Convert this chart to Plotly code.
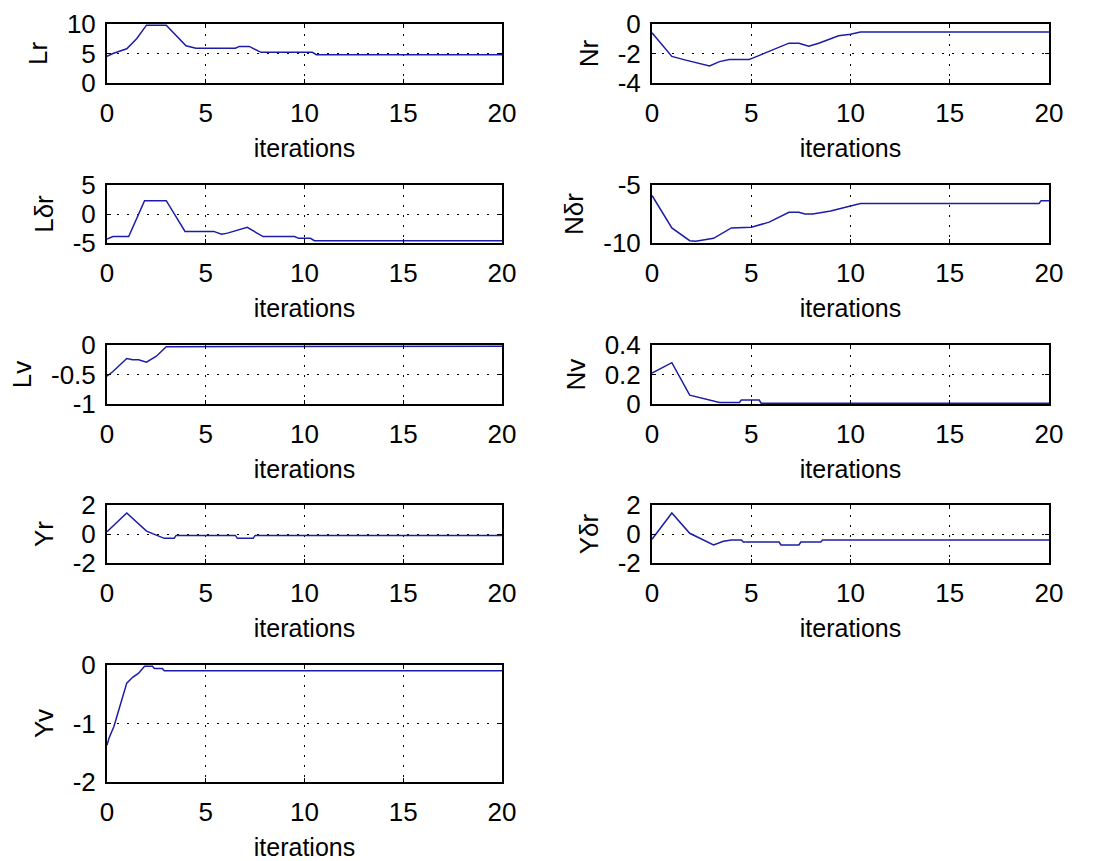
import plotly.graph_objects as go

# Parameter estimate histories against iteration count
it_Lr = [0, 0.3, 1, 1.5, 2, 3, 4, 4.5, 6.5, 6.7, 7.2, 7.5, 7.8, 10.4, 10.6, 20]
Lr = [4.5, 5.0, 5.8, 7.5, 9.8, 9.8, 6.3, 5.9, 5.9, 6.2, 6.2, 5.7, 5.2, 5.2, 4.8, 4.8]

it_Nr = [0, 1, 1.7, 2.9, 3.4, 3.9, 4.9, 5.1, 6.9, 7.4, 7.9, 8.4, 9.4, 10, 10.5, 20]
Nr = [-0.6, -2.2, -2.45, -2.85, -2.55, -2.4, -2.4, -2.3, -1.3, -1.3, -1.5, -1.3, -0.8, -0.7, -0.55, -0.55]

it_Ldr = [0, 0.3, 1.1, 1.9, 3.0, 3.95, 5.4, 5.8, 6.1, 7.1, 7.9, 9.5, 9.7, 10.3, 10.5, 20]
Ldr = [-4.3, -3.9, -3.9, 2.3, 2.3, -3.0, -3.0, -3.5, -3.3, -2.3, -3.9, -3.9, -4.2, -4.2, -4.6, -4.6]

it_Ndr = [0, 1, 1.9, 2.2, 3.1, 4, 5, 5.9, 6.9, 7.4, 7.7, 8.1, 9, 10, 10.5, 19.5, 19.6, 20]
Ndr = [-5.9, -8.7, -9.8, -9.85, -9.6, -8.7, -8.65, -8.2, -7.35, -7.35, -7.5, -7.5, -7.25, -6.8, -6.6, -6.6, -6.35, -6.35]

it_Lv = [0, 0.3, 1.0, 1.3, 1.6, 2.0, 2.5, 3.0, 20]
Lv = [-0.53, -0.45, -0.23, -0.25, -0.25, -0.29, -0.19, -0.03, -0.02]

it_Nv = [0, 1, 1.9, 2.8, 3.4, 4.4, 4.5, 5.4, 5.5, 20]
Nv = [0.21, 0.28, 0.06, 0.03, 0.01, 0.01, 0.027, 0.027, 0.005, 0.005]

it_Yr = [0, 1, 2, 2.4, 2.9, 3.4, 3.5, 6.5, 6.6, 7.4, 7.5, 20]
Yr = [0.16, 1.45, 0.2, 0.0, -0.3, -0.3, -0.1, -0.1, -0.3, -0.3, -0.1, -0.1]

it_Ydr = [0, 1, 1.9, 3.1, 3.6, 4.0, 4.5, 4.6, 6.4, 6.5, 7.4, 7.5, 8.5, 8.6, 20]
Ydr = [-0.37, 1.45, 0.05, -0.76, -0.5, -0.41, -0.41, -0.55, -0.55, -0.76, -0.76, -0.55, -0.55, -0.41, -0.41]

it_Yv = [0, 0.1, 0.35, 1.0, 1.3, 1.6, 1.9, 2.3, 2.4, 2.8, 2.9, 20]
Yv = [-1.37, -1.25, -1.05, -0.31, -0.21, -0.14, -0.02, -0.02, -0.06, -0.06, -0.1, -0.1]

x_ticks = [0, 5, 10, 15, 20]
x_ticktext = ["0", "5", "10", "15", "20"]

# label, x, y, y tick values, y tick text
panels = [
    ("Lr", it_Lr, Lr, [0, 5, 10], ["0", "5", "10"]),
    ("Nr", it_Nr, Nr, [-4, -2, 0], ["-4", "-2", "0"]),
    ("Lδr", it_Ldr, Ldr, [-5, 0, 5], ["-5", "0", "5"]),
    ("Nδr", it_Ndr, Ndr, [-10, -5], ["-10", "-5"]),
    ("Lv", it_Lv, Lv, [-1, -0.5, 0], ["-1", "-0.5", "0"]),
    ("Nv", it_Nv, Nv, [0, 0.2, 0.4], ["0", "0.2", "0.4"]),
    ("Yr", it_Yr, Yr, [-2, 0, 2], ["-2", "0", "2"]),
    ("Yδr", it_Ydr, Ydr, [-2, 0, 2], ["-2", "0", "2"]),
    ("Yv", it_Yv, Yv, [-2, -1, 0], ["-2", "-1", "0"]),
]

W, H = 1100, 861
col_px = [(107, 502), (652, 1049)]
row_px = [(24, 83), (185, 243), (345, 404), (505, 563), (665, 782)]

FONT = "Liberation Sans, Arial, sans-serif"
LINE_COLOR = "#1c1ca8"

fig = go.Figure()
layout = {}
for i, (label, xs, ys, yt, ytt) in enumerate(panels):
    r, c = divmod(i, 2)
    n = i + 1
    xa = "x" if n == 1 else f"x{n}"
    ya = "y" if n == 1 else f"y{n}"
    fig.add_trace(go.Scatter(x=xs, y=ys, mode="lines", xaxis=xa, yaxis=ya,
                             line=dict(color=LINE_COLOR, width=1.5),
                             showlegend=False))
    x0, x1 = col_px[c]
    top, bot = row_px[r]
    common = dict(
        showline=True, linecolor="black", linewidth=2, mirror="ticks",
        ticks="inside", ticklen=4, tickcolor="black", tickwidth=1,
        showgrid=True, gridcolor="black", gridwidth=1, griddash="2px,8px",
        zeroline=False, automargin=False,
        tickfont=dict(family=FONT, size=26, color="black"),
    )
    layout["xaxis" if n == 1 else f"xaxis{n}"] = dict(
        common, domain=[x0 / W, x1 / W], anchor=ya, range=[0, 20],
        tickvals=x_ticks, ticktext=x_ticktext, ticklabelstandoff=6,
        title=dict(text="iterations", standoff=12,
                   font=dict(family=FONT, size=25, color="black")),
    )
    layout["yaxis" if n == 1 else f"yaxis{n}"] = dict(
        common, domain=[1 - bot / H, 1 - top / H], anchor=xa,
        range=[yt[0], yt[-1]], tickvals=yt, ticktext=ytt, ticklabelstandoff=4,
        title=dict(text=label, standoff=12,
                   font=dict(family=FONT, size=26, color="black")),
    )

fig.update_layout(
    width=W, height=H, autosize=False,
    margin=dict(l=0, r=0, t=0, b=0),
    paper_bgcolor="white", plot_bgcolor="white",
    **layout,
)

fig.write_html("out.html")
